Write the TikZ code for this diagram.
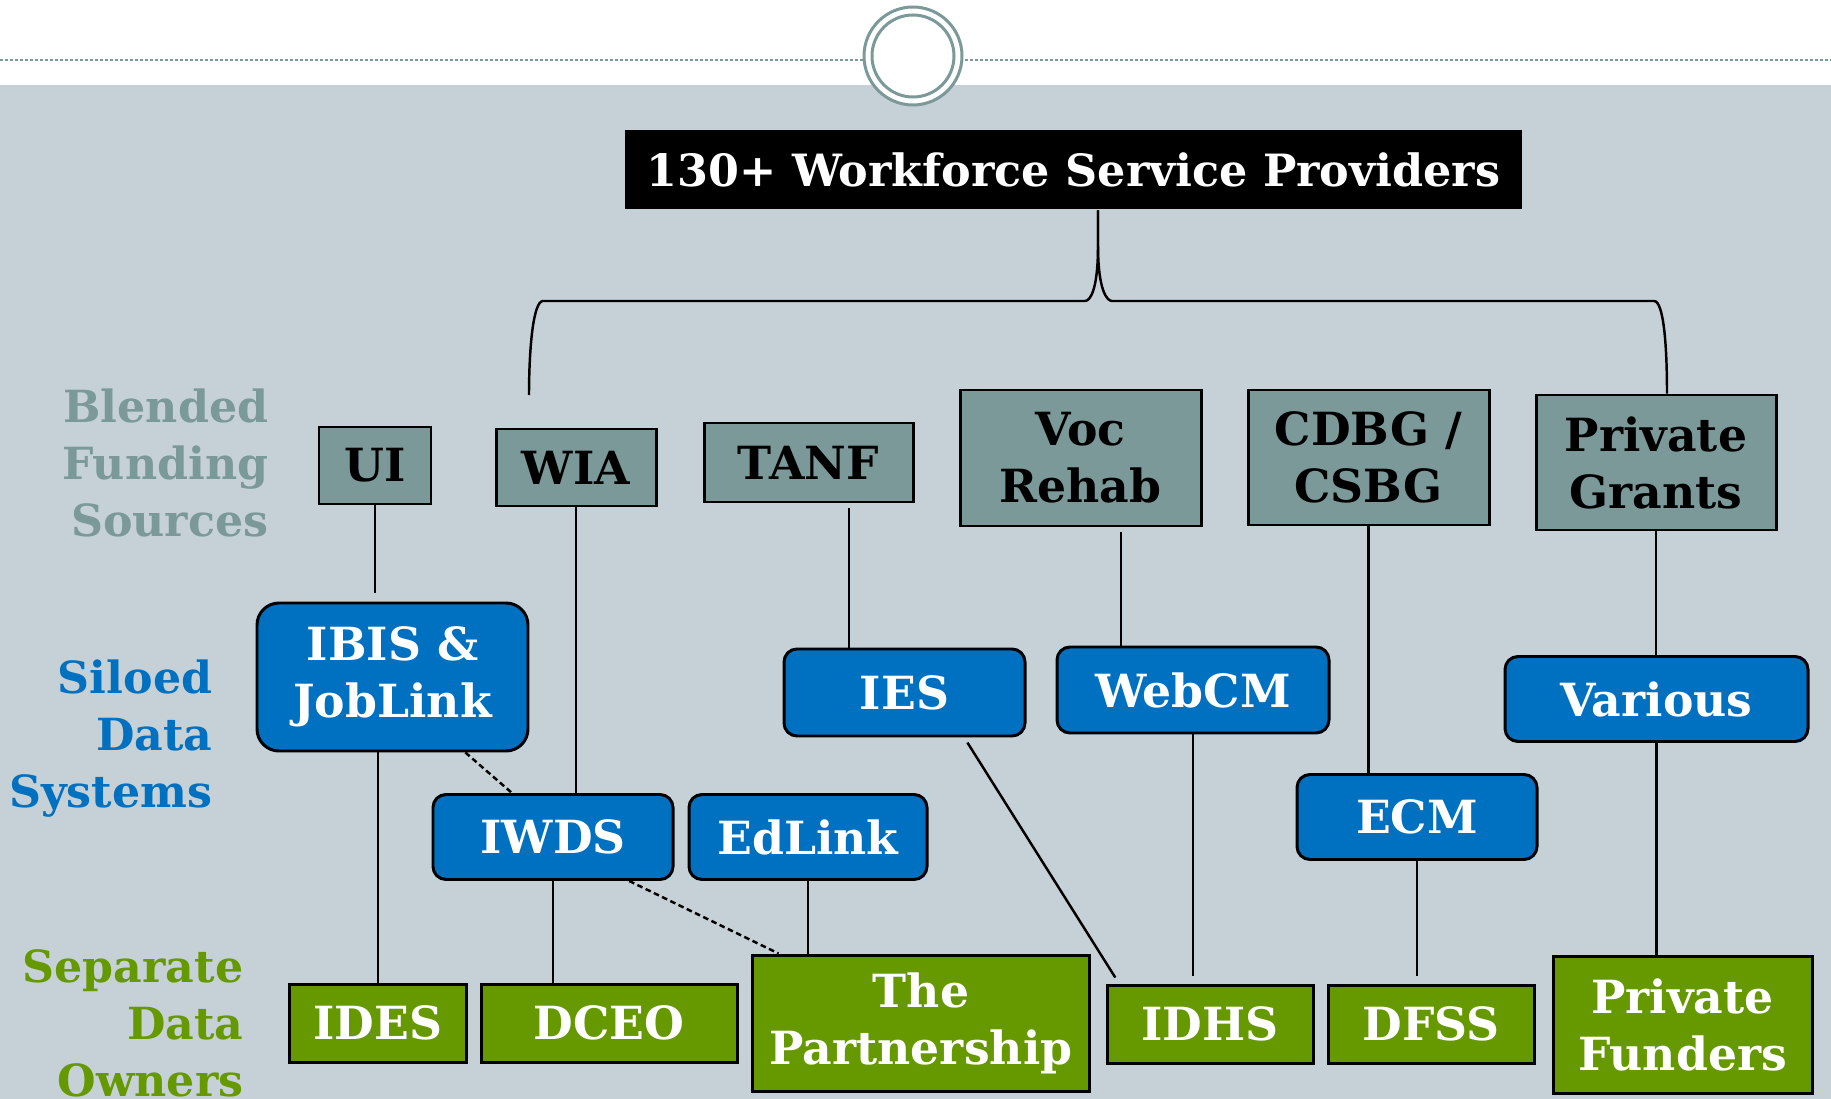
\documentclass[tikz,border=0pt]{standalone}
\usepackage{fontspec}
\setmainfont{DejaVu Serif}
\usepackage{tikz}
\usetikzlibrary{shapes,arrows, positioning}
\definecolor{bgGrey}{HTML}{C5D1D7}
\definecolor{fundGrey}{HTML}{7A9998}
\definecolor{sysBlue}{HTML}{0070C0}
\definecolor{ownGreen}{HTML}{669900}
\tikzstyle{box} = [draw=black, line width=0.85pt, inner sep=0pt, align=center, font=\bfseries\fontsize{13}{16.2}\selectfont]
\tikzstyle{fund} = [box, fill=fundGrey, text=black]
\tikzstyle{sys} = [box, fill=sysBlue, text=white, rounded corners=1.3mm]
\tikzstyle{owner} = [box, fill=ownGreen, text=white]
\tikzstyle{rowlabel} = [align=right, anchor=east, inner sep=0pt, font=\bfseries\fontsize{12.6}{16.2}\selectfont]
\tikzstyle{line} = [draw, line width=0.7pt]
\tikzstyle{dline} = [draw, line width=0.7pt, dash pattern=on 1.6pt off 1pt]

\begin{document}
\begin{tikzpicture}[x=0.1mm, y=-0.1mm]
				\useasboundingbox (0,0) rectangle (1831,1099);
				\fill[white] (0,0) rectangle (1831,85);
				\fill[bgGrey] (0,85) rectangle (1831,1099);
				\draw[fundGrey, line width=0.2mm, dash pattern=on 0.3mm off 0.2mm] (0,60) -- (1831,60);
				\draw[fundGrey, line width=0.3mm, fill=white] (913,56) circle [radius=4.9mm];
				\draw[fundGrey, line width=0.3mm] (913,56) circle [radius=4.1mm];

				\node [box, draw=none, fill=black, text=white, minimum width=89.7mm, minimum height=7.9mm, font=\bfseries\fontsize{12.65}{16}\selectfont] (title) at (1073.5,169.5) {130+ Workforce Service Providers};

				% row labels
				\node [rowlabel, text=fundGrey] (blended) at (269,463) {Blended\\Funding\\Sources};
				\node [rowlabel, text=sysBlue] (siloed) at (213,739) {Siloed\\Data\\Systems};
				\node [rowlabel, text=ownGreen] (separate) at (244,1023) {Separate\\Data\\Owners};

				% funding sources
				\node [fund, minimum width=11.2mm, minimum height=7.7mm] (UI) at (375,465.5) {UI};
				\node [fund, minimum width=16mm, minimum height=7.7mm] (WIA) at (576,467.5) {WIA};
				\node [fund, minimum width=20.9mm, minimum height=7.9mm] (TANF) at (808.5,462.5) {TANF};
				\node [fund, minimum width=24.1mm, minimum height=13.6mm] (voc) at (1080.5,458) {Voc\\Rehab};
				\node [fund, minimum width=24.1mm, minimum height=13.5mm] (CDBG) at (1368.5,457.5) {CDBG /\\CSBG};
				\node [fund, minimum width=24mm, minimum height=13.5mm] (PG) at (1656,462.5) {Private\\Grants};

				% data systems
				\node [sys, rounded corners=2.2mm, minimum width=27.1mm, minimum height=14.8mm] (IBIS) at (392.5,677) {IBIS \&\\JobLink};
				\node [sys, minimum width=24.1mm, minimum height=8.7mm] (IES) at (904.5,692.5) {IES};
				\node [sys, minimum width=27.2mm, minimum height=8.6mm] (webcm) at (1193,690) {WebCM};
				\node [sys, minimum width=30.3mm, minimum height=8.5mm] (various) at (1656.5,699) {Various};
				\node [sys, minimum width=24mm, minimum height=8.5mm] (IWDS) at (553,837) {IWDS};
				\node [sys, minimum width=23.8mm, minimum height=8.5mm] (edlink) at (808,837) {EdLink};
				\node [sys, minimum width=24mm, minimum height=8.5mm] (ECM) at (1417,817) {ECM};

				% data owners
				\node [owner, minimum width=17.7mm, minimum height=7.8mm] (IDES) at (378,1023) {IDES};
				\node [owner, minimum width=25.6mm, minimum height=7.8mm] (DCEO) at (609,1023) {DCEO};
				\node [owner, minimum width=33.7mm, minimum height=13.6mm] (partner) at (921,1023) {The\\Partnership};
				\node [owner, minimum width=20.6mm, minimum height=7.8mm] (IDHS) at (1210,1024) {IDHS};
				\node [owner, minimum width=20.6mm, minimum height=7.8mm] (DFSS) at (1431,1024) {DFSS};
				\node [owner, minimum width=25.9mm, minimum height=13.7mm] (PF) at (1682.5,1024.5) {Private\\Funders};

				% brace under the title
				\coordinate (stem) at ([xshift=2.45mm]title.south);
				\coordinate (brace-l) at (529,395);
				\coordinate (brace-r) at ([xshift=1.1mm]PG.north);
				\draw [line] (stem) -- ++(0,35) .. controls +(0,45) and +(5,0) .. (1085,301) -- (543,301) .. controls +(-10,0) and +(0,-45) .. (brace-l);
				\draw [line] (stem) -- ++(0,35) .. controls +(0,45) and +(-5,0) .. (1112,301) -- (1654,301) .. controls +(10,0) and +(0,-45) .. (brace-r);

				\coordinate (tanf-out) at ([xshift=4.05mm]TANF.south);
				\coordinate (voc-out) at ([xshift=4.05mm]voc.south);

				\path [line, shorten >=0.9mm] (UI) -- (UI.south |- IBIS.north);
				\path [line] (IDES) -- (IDES.north |- IBIS.south);
				\path [line] (WIA) -- (WIA.south |- IWDS.north);
				\path [dline] (IBIS.-46.6) -- (IWDS.133);
				\path [line] (IWDS) -- (IWDS.south |- DCEO.north);
				\path [dline] (IWDS.-30.8) -- (partner.154.9);
				\path [line] (edlink) -- (edlink.south |- partner.north);
				\path [line, shorten <=0.5mm] (tanf-out) -- (tanf-out |- IES.north);
				\path [line, shorten <=0.6mm, shorten >=0.7mm] (IES.-37.6) -- (IDHS.156.3);
				\path [line, shorten <=0.5mm] (voc-out) -- (voc-out |- webcm.north);
				\path [line, shorten >=0.8mm] (webcm) -- (webcm.south |- IDHS.north);
				\path [line] (CDBG) -- (CDBG.south |- ECM.north);
				\path [line, shorten >=0.8mm] (ECM) -- (ECM.south |- DFSS.north);
				\path [line] (PG) -- (PG.south |- various.north);
				\path [line] (various) -- (various.south |- PF.north);
			\end{tikzpicture}
\end{document}
